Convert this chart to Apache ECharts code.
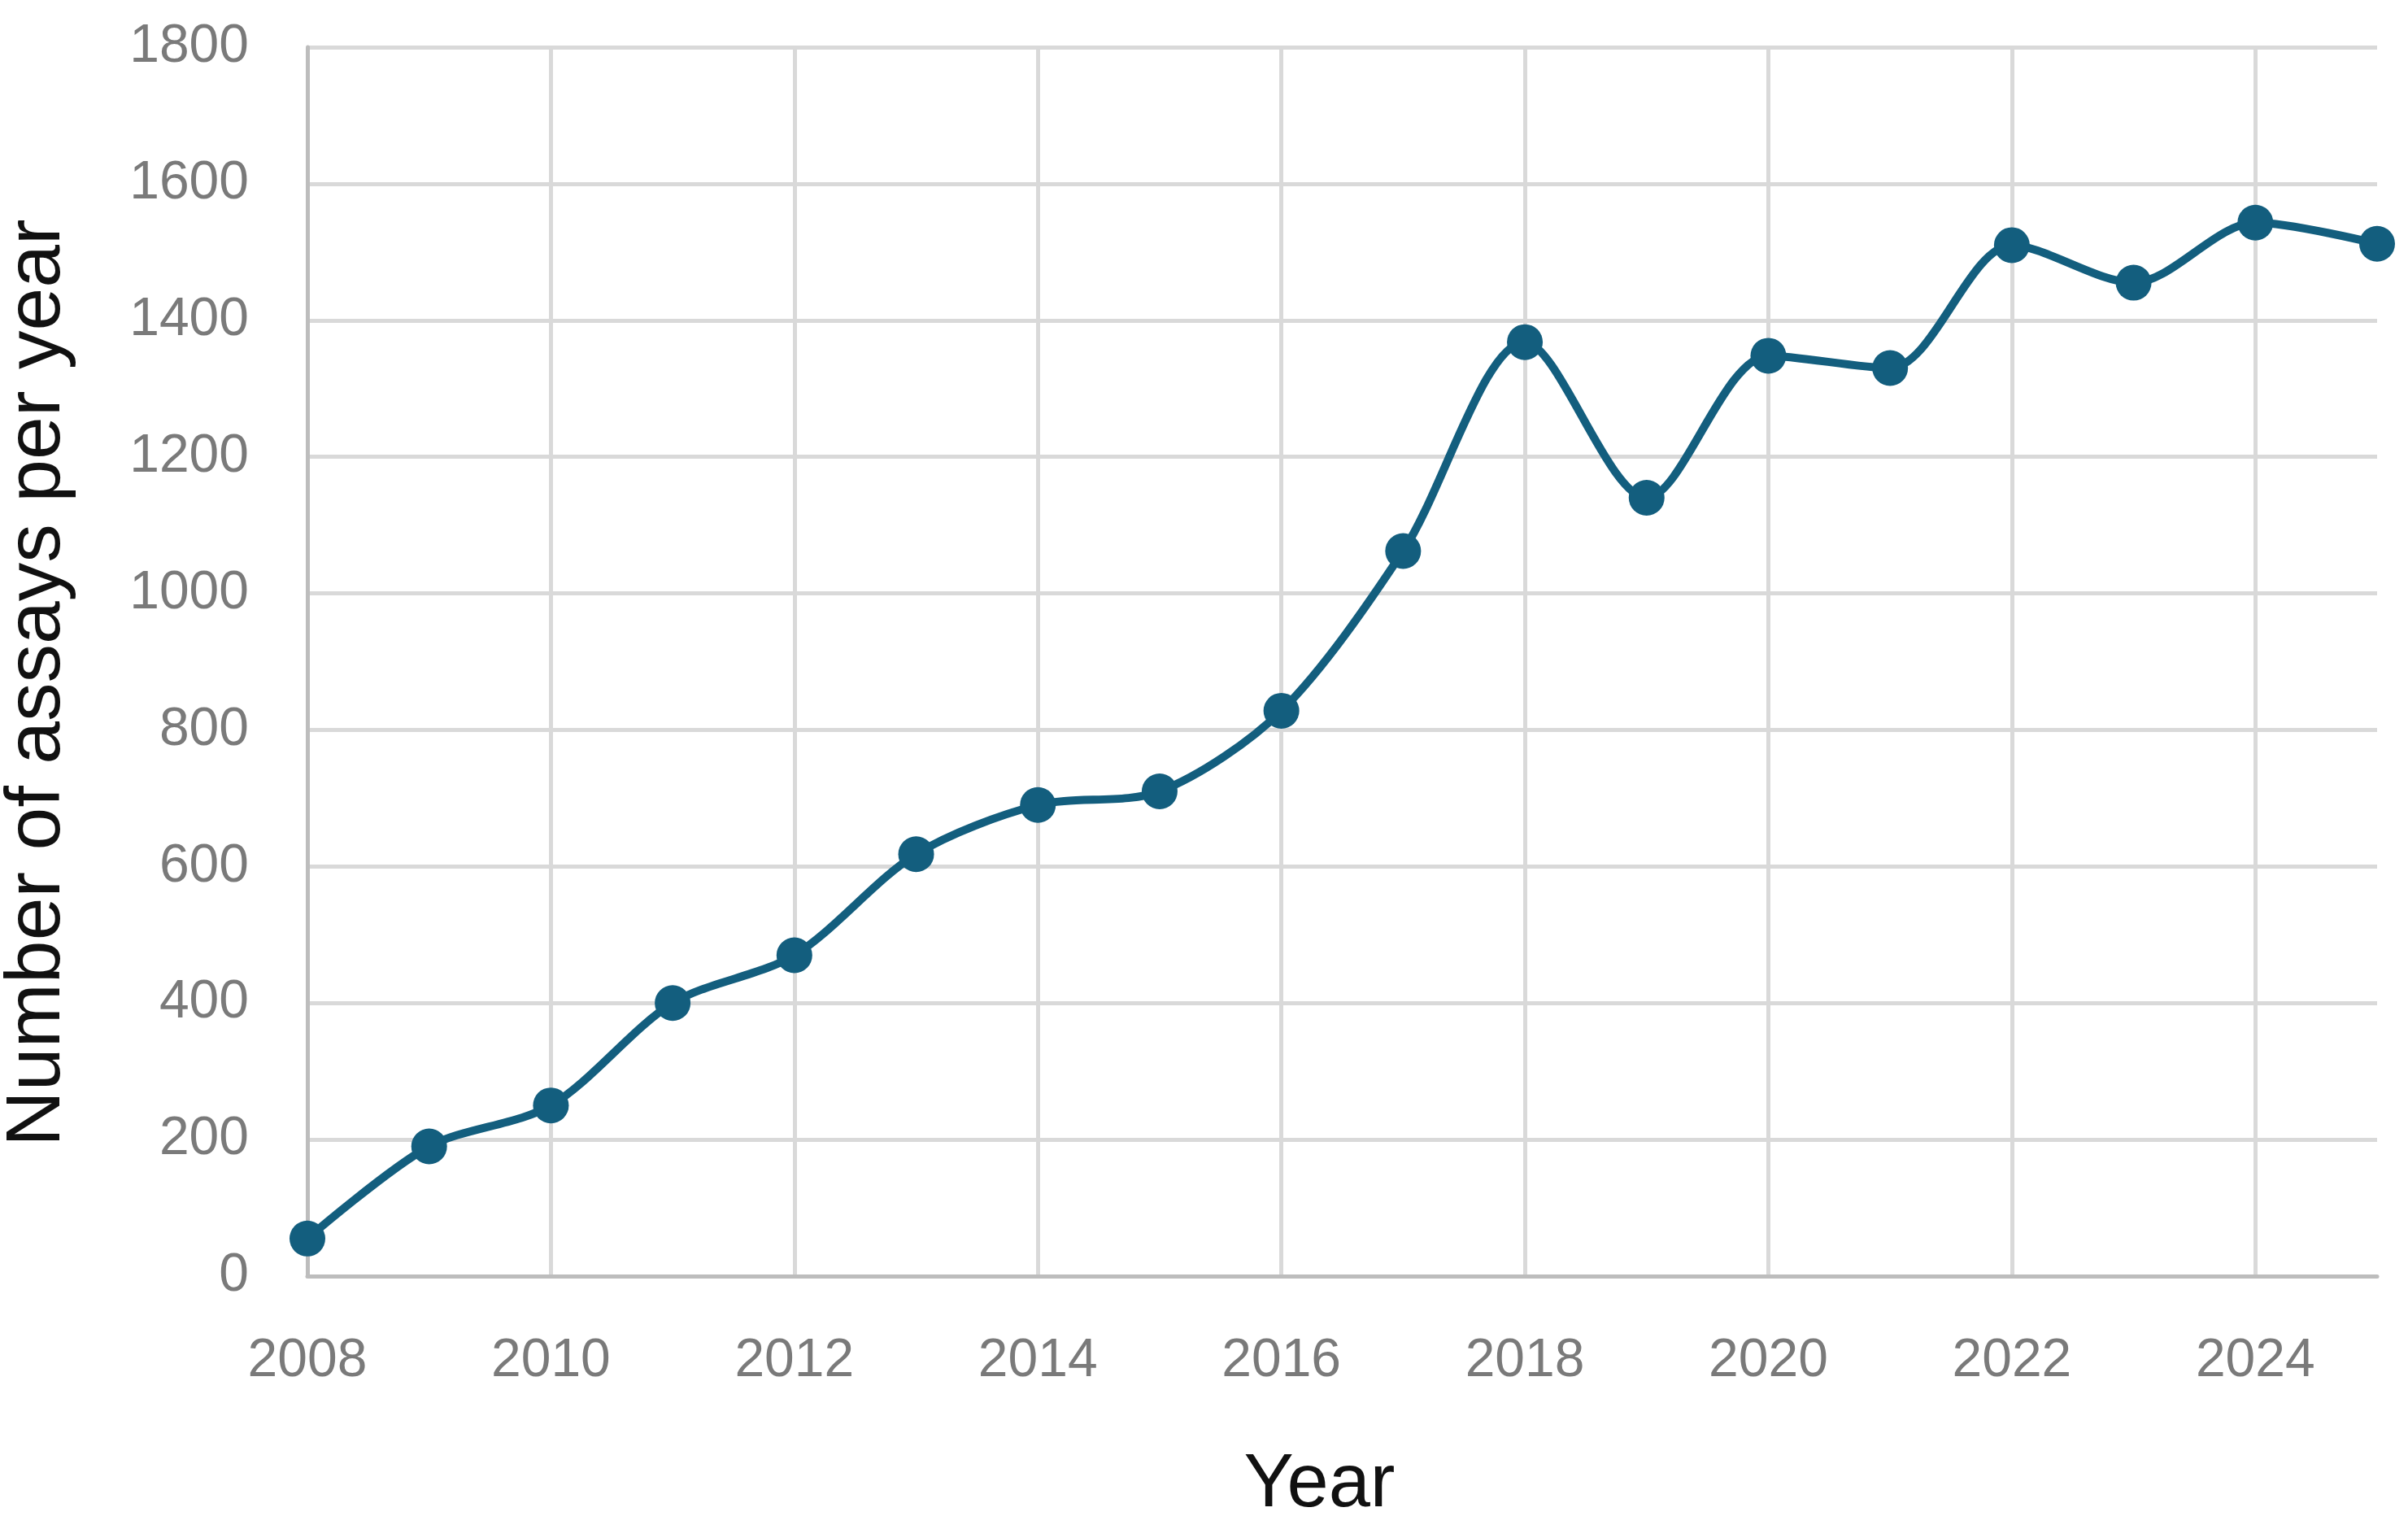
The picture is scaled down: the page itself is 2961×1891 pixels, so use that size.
<!DOCTYPE html>
<html>
<head>
<meta charset="utf-8">
<script src="https://cdn.jsdelivr.net/npm/echarts@6/dist/echarts.min.js"></script>
<style>
html,body{margin:0;padding:0;background:#fff;}
#chart{width:2961px;height:1891px;}
</style>
</head>
<body>
<div id="chart"></div>
<script>
var years = [2008,2009,2010,2011,2012,2013,2014,2015,2016,2017,2018,2019,2020,2021,2022,2023,2024,2025];
var assays = [55,190,250,400,470,618,690,710,828,1062,1368,1140,1348,1330,1510,1455,1543,1512];
var xTitle = 'Year';
var yTitle = 'Number of assays per year';

var chart = echarts.init(document.getElementById('chart'));
chart.setOption({
  animation: false,
  backgroundColor: '#ffffff',
  grid: {left: 378, right: 38, top: 58, bottom: 322, containLabel: false, outerBoundsMode: 'none'},
  xAxis: {
    type: 'value', min: 2008, max: 2025, interval: 2,
    name: xTitle, nameLocation: 'middle', nameGap: 212,
    nameTextStyle: {fontFamily: 'Liberation Sans', fontSize: 92, color: '#111', padding: [0, 56, 0, 0]},
    axisLine: {show: true, lineStyle: {color: '#bdbdbd', width: 5}},
    axisTick: {show: false},
    axisLabel: {fontFamily: 'Liberation Sans', fontSize: 66, color: '#7a7a7a', margin: 72,
      showMaxLabel: false, formatter: function(v){ return String(v); }},
    splitLine: {show: true, showMaxLine: false, lineStyle: {color: '#d9d9d9', width: 5}}
  },
  yAxis: {
    type: 'value', min: 0, max: 1800, interval: 200,
    name: yTitle, nameLocation: 'middle', nameGap: 284,
    nameTextStyle: {fontFamily: 'Liberation Sans', fontSize: 95, color: '#111', padding: [0, 52, 0, 0]},
    axisLine: {show: true, lineStyle: {color: '#bdbdbd', width: 5}},
    axisTick: {show: false},
    axisLabel: {fontFamily: 'Liberation Sans', fontSize: 66, color: '#7a7a7a', margin: 72,
      formatter: function(v){ return String(v); }},
    splitLine: {show: true, lineStyle: {color: '#d9d9d9', width: 5}}
  },
  series: [{
    type: 'line',
    data: years.map(function(y, i){ return [y, assays[i]]; }),
    smooth: 0.3,
    symbol: 'circle', symbolSize: 44,
    lineStyle: {color: '#135e7e', width: 10},
    itemStyle: {color: '#135e7e'},
    clip: false
  }]
});
</script>
</body>
</html>
